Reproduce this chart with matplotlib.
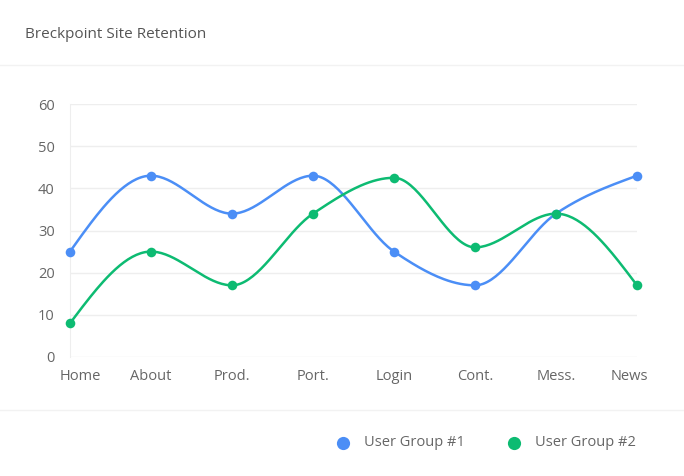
import numpy as np
import matplotlib.pyplot as plt
from matplotlib.lines import Line2D
from matplotlib.transforms import ScaledTranslation

# Datos
pages = ["Home", "About", "Prod.", "Port.", "Login", "Cont.", "Mess.", "News"]
group1 = [25, 43, 34, 43, 25, 17, 34, 43]
group2 = [8, 25, 17, 34, 42.5, 26, 34, 17]
series_names = ["User Group #1", "User Group #2"]
colors = ["#4b8ef6", "#0dbb72"]
yticks = [0, 10, 20, 30, 40, 50, 60]

plt.rcParams['font.family'] = ['Open Sans', 'DejaVu Sans']


def smooth(xs, ys, n=40):
    # curva monotona (como d3.curveMonotoneX)
    xs = np.asarray(xs, float)
    ys = np.asarray(ys, float)
    s = np.diff(ys) / np.diff(xs)
    m = np.zeros(len(xs))
    for i in range(1, len(xs) - 1):
        h0, h1 = xs[i] - xs[i - 1], xs[i + 1] - xs[i]
        p = (s[i - 1] * h1 + s[i] * h0) / (h0 + h1)
        m[i] = (np.sign(s[i - 1]) + np.sign(s[i])) * min(abs(s[i - 1]), abs(s[i]), 0.5 * abs(p))
    m[0] = (3 * s[0] - m[1]) / 2
    m[-1] = (3 * s[-1] - m[-2]) / 2
    t = np.linspace(0, 1, n)
    b = [(1 - t) ** 3, 3 * (1 - t) ** 2 * t, 3 * (1 - t) * t ** 2, t ** 3]
    px, py = [], []
    for i in range(len(xs) - 1):
        dx = (xs[i + 1] - xs[i]) / 3
        cx = [xs[i], xs[i] + dx, xs[i + 1] - dx, xs[i + 1]]
        cy = [ys[i], ys[i] + dx * m[i], ys[i + 1] - dx * m[i + 1], ys[i + 1]]
        px.extend(sum(bi * ci for bi, ci in zip(b, cx)))
        py.extend(sum(bi * ci for bi, ci in zip(b, cy)))
    return px, py


W, H = 684, 476
fig = plt.figure(figsize=(W / 100, H / 100), dpi=100)
ax = fig.add_axes([70 / W, 1 - 357 / H, (637 - 70) / W, (357 - 104) / H])

x = np.arange(len(pages))
for vals, c in zip([group1, group2], colors):
    sx, sy = smooth(x, vals)
    ax.plot(sx, sy, color=c, lw=1.8, clip_on=False, zorder=3)
    ax.scatter(x, vals, s=48, color=c, clip_on=False, zorder=4, linewidths=0)

ax.set_xlim(0, len(pages) - 1)
ax.set_ylim(0, 60)
ax.set_yticks(yticks)
ax.set_xticks(x)
ax.set_xticklabels(pages)
ax.grid(axis='y', color='#eeeeee', lw=1)
ax.set_axisbelow(True)
for s in ['top', 'right', 'bottom']:
    ax.spines[s].set_visible(False)
ax.spines['left'].set_color('#eeeeee')
ax.tick_params(length=0, labelsize=10.5, labelcolor='#666666')
ax.tick_params(axis='y', pad=11)
ax.tick_params(axis='x', pad=9)

# primeras/ultimas etiquetas hacia dentro
xl = ax.get_xticklabels()
xl[0].set_transform(xl[0].get_transform() + ScaledTranslation(0.10, 0, fig.dpi_scale_trans))
xl[-1].set_transform(xl[-1].get_transform() + ScaledTranslation(-0.08, 0, fig.dpi_scale_trans))

# Titulo y separadores
fig.text(25 / W, 1 - 34 / H, "Breckpoint Site Retention", fontsize=11,
         color='#555555', va='center', ha='left')
for yy in [65, 410]:
    fig.add_artist(Line2D([0, 1], [1 - yy / H, 1 - yy / H], color='#f2f2f2', lw=1))

# Leyenda
for name, c, mx in zip(series_names, colors, [343, 514]):
    fig.add_artist(Line2D([mx / W], [1 - 443 / H], marker='o', ls='', markersize=9.5,
                          color=c, markeredgewidth=0))
    fig.text((mx + 21) / W, 1 - 443 / H, name, fontsize=10.5, color='#666666',
             va='center', ha='left')

fig.savefig("out.png", dpi=100)
